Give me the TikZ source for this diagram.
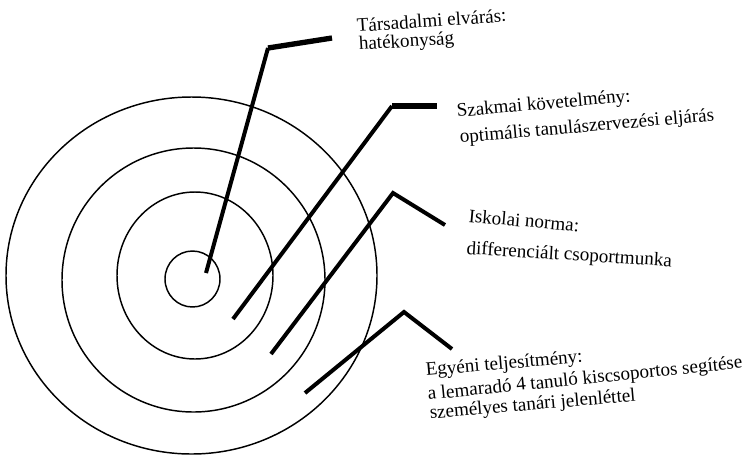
\documentclass[tikz,border=0pt]{standalone}
\usepackage{fontspec}
\setmainfont{Liberation Serif}
\usetikzlibrary{shapes.geometric}
\begin{document}
\begin{tikzpicture}[x=0.75pt,y=-0.75pt,
  ring/.style={draw=black, line width=1.1pt, ellipse, inner sep=0pt},
  lead/.style={line width=3pt, line join=miter},
  stub/.style={line width=4pt},
  lbl/.style={anchor=base west, inner sep=0pt, font=\fontsize{14.3}{17}\selectfont}]
\useasboundingbox (0,0) rectangle (745,465);
% rings
\node[ring, minimum width=278.25pt, minimum height=267.75pt] (r4) at (191.5,275.5) {};
\node[ring, minimum width=197.25pt, minimum height=198pt] (r3) at (193.5,280) {};
\node[ring, minimum width=117pt, minimum height=125.25pt] (r2) at (195,275.5) {};
\node[ring, minimum width=41.25pt, minimum height=42pt] (r1) at (192.5,279) {};
% leader coordinates
\coordinate (a0) at (206,273);
\coordinate (a1) at (268,48);
\coordinate (a2) at (332,38);
\coordinate (b0) at (233,319);
\coordinate (b1) at (392,106);
\coordinate (b2) at (437,106);
\coordinate (c0) at (271,354);
\coordinate (c1) at (393,193);
\coordinate (c2) at (445,225);
\coordinate (d0) at (305,393);
\coordinate (d1) at (404,312);
\coordinate (d2) at (452,349);
% leaders
\draw[lead] (a0) -- (a1);
\draw[stub] (a1) -- (a2);
\draw[lead] (b0) -- (b1);
\draw[stub] (b1) -- (b2);
\draw[lead] (c0) -- (c1) -- (c2);
\draw[lead] (d0) -- (d1) -- (d2);
% labels
\node[lbl, rotate=4] (t1) at (357,32) {Társadalmi elvárás:};
\node[lbl, rotate=3.5] (t2) at (359,50) {hatékonyság};
\node[lbl, rotate=5] (s1) at (457,117) {Szakmai követelmény:};
\node[lbl, rotate=5] (s2) at (460,143) {optimális tanulászervezési eljárás};
\node[lbl, rotate=-5] (i1) at (468,222) {Iskolai norma:};
\node[lbl, rotate=-3.5] (i2) at (466,254) {differenciált csoportmunka};
\node[lbl, rotate=5] (e1) at (426,376) {Egyéni teljesítmény:};
\node[lbl, rotate=5.8] (e2) at (428,400) {a lemaradó 4 tanuló kiscsoportos segítése};
\node[lbl, rotate=5] (e3) at (430,419) {személyes tanári jelenléttel};
\end{tikzpicture}
\end{document}
